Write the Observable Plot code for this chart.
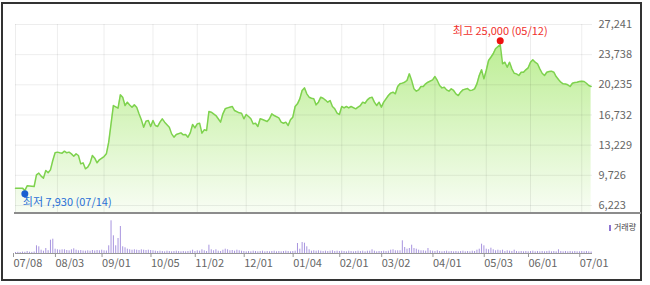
<!DOCTYPE html>
<html><head><meta charset="utf-8">
<script src="https://cdn.jsdelivr.net/npm/d3@7"></script>
<script src="https://cdn.jsdelivr.net/npm/@observablehq/plot@0.6"></script>
<style>
body{margin:0;background:#fff;}
#wrap{position:relative;width:650px;height:285px;overflow:hidden;font-family:"Noto Sans CJK KR","Noto Sans",sans-serif;}
#frame{position:absolute;left:1px;top:2px;width:641px;height:279px;border:2px solid #333;box-sizing:border-box;}
#sep{position:absolute;left:14px;top:212px;width:627px;height:2px;background:#8c8c8c;}
.abs{position:absolute;left:0;}
#legend{position:absolute;left:609px;top:222px;font-size:8px;color:#444;line-height:10px;white-space:nowrap;}
#legend span.sw{display:inline-block;width:2px;height:6px;background:#8e74d2;margin-right:3px;vertical-align:-1px;}
</style></head>
<body><div id="wrap"><div id="frame"></div></div>
<script>
// trading-day index (0 = 07/08) of month-start ticks and their labels
const tickIdx = [0, 18, 38, 59, 78, 99, 120, 140, 158, 180, 202, 221, 243];
const tickLabels = ["07/08","08/03","09/01","10/05","11/02","12/01","01/04","02/01","03/02","04/01","05/03","06/01","07/01"];
const yTicks = [6223, 9726, 13229, 16732, 20235, 23738, 27241];

// closing price by trading-day index
const priceIdx = [0,3,4,5,7,8,9,10,11,12,13,14,15,16,17,18,19,20,21,22,23,24,25,26,27,28,29,30,31,32,33,34,35,36,38,39,40,41,42,44,45,46,47,48,49,50,51,52,53,54,55,56,57,58,59,60,61,62,63,64,66,67,68,69,71,72,73,74,75,76,77,78,79,80,81,82,83,84,86,87,88,89,90,91,93,94,96,97,98,99,100,101,102,103,104,105,106,108,109,110,111,113,114,115,116,117,118,119,120,121,122,123,124,125,126,127,128,129,130,131,132,133,134,135,136,137,138,139,140,141,142,143,144,146,147,148,149,150,151,152,153,154,155,156,157,158,159,160,161,162,163,164,165,166,167,168,169,170,171,172,173,174,175,176,177,179,180,181,182,183,184,185,186,187,188,189,190,191,192,194,195,196,197,198,199,200,201,202,203,204,205,206,208,209,210,211,212,213,214,215,216,217,218,219,220,221,222,223,224,225,226,227,228,229,230,231,232,233,234,235,236,237,238,239,240,241,242,243,244,245,246,247];
const priceVal = [8240,8240,7950,8510,8470,8430,9780,9980,9630,9400,10290,10020,10360,11450,12340,12420,12340,12300,12530,12340,12420,12220,11950,12220,12030,11060,11180,10480,10670,11140,12030,11720,11180,11530,11910,12220,13580,15700,17830,17520,19070,18800,17830,18220,17900,17640,17910,17640,16870,16170,15320,16010,16090,15400,16090,15510,15400,15900,16290,15900,15320,14540,14160,14470,14660,14430,14470,14160,14660,15630,15240,15700,15780,14620,15010,14930,17140,17060,16670,16290,15900,16870,17450,17560,17720,17250,16980,16940,16290,16790,16560,16290,15700,15780,15400,16290,16210,15980,16290,16870,16670,16400,15900,15780,15900,15510,16170,16480,17720,18030,18610,19580,19880,19190,18800,18680,18610,17910,18220,18800,18680,18470,18220,18410,17720,17450,16940,16790,17720,17560,17720,17560,17720,17450,17640,17830,18220,18100,18490,18720,18800,18220,17830,18220,17640,18220,18610,18990,19270,19380,19190,20040,20350,20430,20540,20740,21510,20740,19770,19500,19650,20040,20040,20350,20540,20810,21200,20740,20160,19880,19960,19650,19500,19770,19580,19190,18990,19380,19650,19800,19580,19620,19770,20350,21320,21980,20930,21900,23060,23440,23840,24420,24900,22680,22860,22280,22860,22090,21580,21510,21320,21700,21700,21980,22210,22860,23140,22860,22680,22090,21580,21320,21700,21780,21820,21700,21200,20850,20540,20350,20330,20240,20040,20420,20500,20540,20620,20650,20620,20420,20150,20040];

// daily volume (thousand shares), index 0..247
const volumes = [
100,120,100,140,120,200,130,110,150,770,
670,330,230,500,280,1330,1430,430,370,330,
370,370,300,270,370,470,330,270,300,250,
230,270,230,300,250,300,270,330,270,250,
770,3270,1770,770,1500,2700,670,570,430,370,
330,370,330,300,370,330,300,330,300,270,
230,200,230,200,170,230,200,170,200,230,
200,170,200,170,200,230,330,200,270,230,
370,270,200,830,370,270,370,230,200,330,
430,370,270,300,230,330,270,230,200,170,
200,170,230,200,170,200,230,170,200,170,
200,230,170,200,170,200,230,200,170,200,
230,1000,430,1100,1030,670,370,230,270,230,
270,230,200,230,200,230,270,200,230,200,
230,200,170,230,200,170,200,230,200,230,
170,230,230,370,230,170,200,200,230,200,
230,330,370,270,270,270,1270,600,430,500,
830,500,430,330,270,270,230,500,270,230,
200,270,200,170,200,230,170,200,170,200,
170,200,230,170,200,170,230,200,330,430,
930,770,430,370,530,370,270,330,270,330,
200,270,230,200,330,200,170,200,170,200,
170,200,230,170,200,170,200,170,200,230,
170,200,170,370,200,170,200,170,200,170,
200,170,170,200,170,200,170,150];

const lowPoint = {i: 4, v: 7930, text: "최저 7,930 (07/14)"};
const highPoint = {i: 208, v: 25000, text: "최고 25,000 (05/12)"};

const priceData = priceIdx.map((d, k) => ({i: d, v: priceVal[k]}));
const volData = volumes.map((v, k) => ({i: k, v}));
const labelMap = new Map(tickIdx.map((d, k) => [d, tickLabels[k]]));
const xDomain = [0, 247.6];
const yMin = 5294;
const font = '"Noto Sans CJK KR","Noto Sans",sans-serif';

const defs = () => {
  const d = document.createElementNS("http://www.w3.org/2000/svg", "defs");
  d.innerHTML = '<linearGradient id="pg" x1="0" y1="0" x2="0" y2="1"><stop offset="0" stop-color="#bdee95"/><stop offset="1" stop-color="#f8fdf4"/></linearGradient>';
  return d;
};

const price = Plot.plot({
  width: 650, height: 214,
  marginLeft: 15, marginRight: 58, marginTop: 24, marginBottom: 1,
  x: {domain: xDomain, axis: null},
  y: {domain: [yMin, 27241], axis: null},
  style: {background: "transparent", fontFamily: font, fontSize: "11px", overflow: "visible"},
  marks: [
    defs,
    Plot.areaY(priceData, {x: "i", y1: yMin, y2: "v", fill: "url(#pg)"}),
    Plot.gridX(tickIdx, {stroke: "#000", strokeOpacity: 0.07}),
    Plot.gridY(yTicks, {stroke: "#000", strokeOpacity: 0.07}),
    Plot.line(priceData, {x: "i", y: "v", stroke: "#7ed24e", strokeWidth: 1.5}),
    Plot.axisY(yTicks, {anchor: "right", label: null, tickSize: 0, tickPadding: 6, tickFormat: d3.format(","), fill: "#666", fontSize: 11}),
    Plot.dot([highPoint], {x: "i", y: "v", r: 3.5, fill: "#ee1111", dy: -3}),
    Plot.text([highPoint], {x: "i", y: "v", text: "text", dy: -12, fill: "#f0302c", fontSize: 11}),
    Plot.dot([lowPoint], {x: "i", y: "v", r: 3.5, fill: "#1a5fd0", dy: 3}),
    Plot.text([lowPoint], {x: "i", y: "v", text: "text", dy: 12, dx: -2, textAnchor: "start", fill: "#2a6fd6", fontSize: 11})
  ]
});
price.classList.add("abs");
price.style.top = "0px";

const vol = Plot.plot({
  width: 650, height: 60,
  marginLeft: 15, marginRight: 58, marginTop: 0, marginBottom: 21,
  x: {domain: xDomain, axis: null},
  y: {domain: [0, 3900], axis: null},
  style: {background: "transparent", fontFamily: font, fontSize: "11px", overflow: "visible"},
  marks: [
    Plot.ruleX(volData, {x: "i", y: "v", stroke: "#a895df", strokeWidth: 1}),
    Plot.ruleY([0], {stroke: "#999"}),
    Plot.axisX(tickIdx, {label: null, tickSize: 4, tickPadding: 2, tickFormat: d => labelMap.get(d), textAnchor: "start", dx: -2, stroke: "#999", fill: "#666", fontSize: 11})
  ]
});
vol.classList.add("abs");
vol.style.top = "214px";

const wrap = document.getElementById("wrap");
wrap.appendChild(price);
wrap.appendChild(vol);
const sep = document.createElement("div"); sep.id = "sep"; wrap.appendChild(sep);
const lg = document.createElement("div"); lg.id = "legend";
lg.innerHTML = '<span class="sw"></span>거래량';
wrap.appendChild(lg);
</script>
</body></html>
